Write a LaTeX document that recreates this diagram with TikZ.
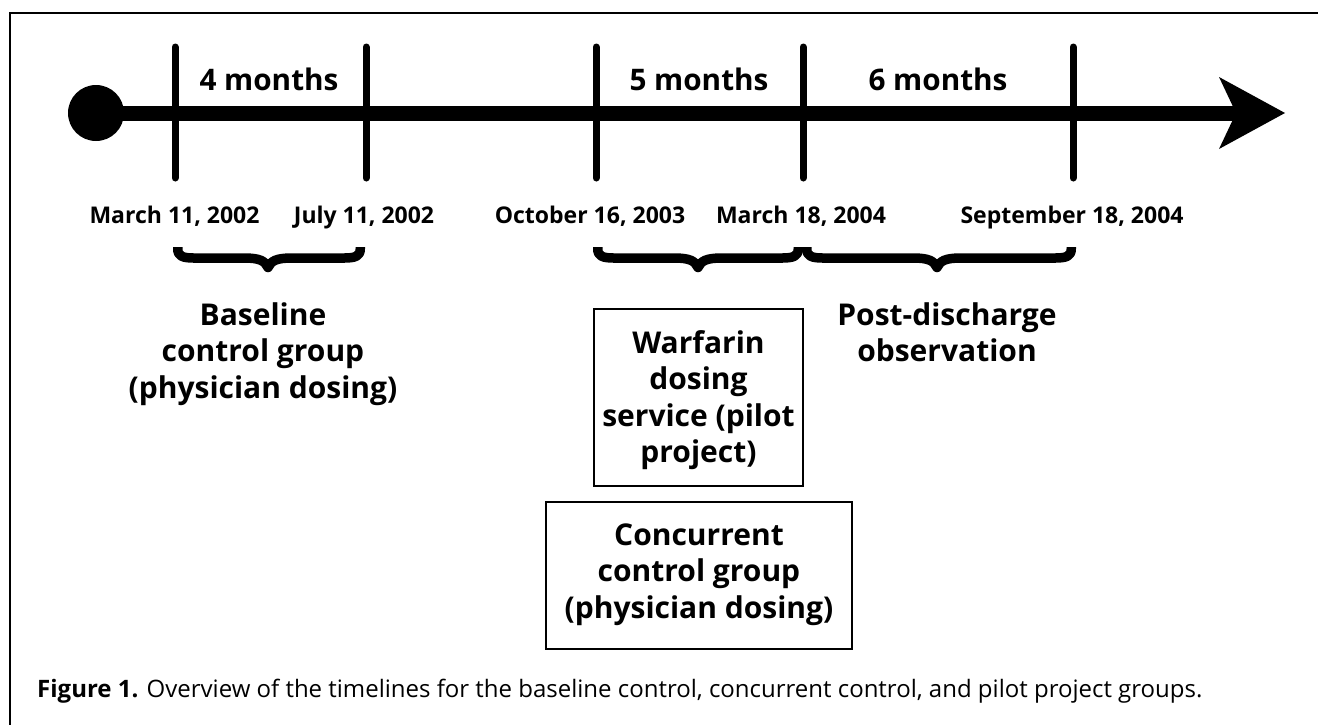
\documentclass[tikz,border=0pt]{standalone}
\usepackage{fontspec}
\setmainfont{Open Sans}
\newcommand\mybrace[4]{% name, left outer x, tip x, right outer x
  \draw[bracestyle] ({#2+4.75},247) -- ({#2+4.75},249)
    .. controls ({#2+4.75},256) and ({#2+9.5},258) .. ({#2+20.5},258)
    -- ({#3-24},258)
    .. controls ({#3-8},258) and ({#3-3},261) .. (#3,267.5)
    .. controls ({#3+3},261) and ({#3+8},258) .. ({#3+24},258)
    -- ({#4-20.5},258)
    .. controls ({#4-9.5},258) and ({#4-4.75},256) .. ({#4-4.75},249)
    -- ({#4-4.75},247) coordinate (#1);}
\begin{document}
\begin{tikzpicture}[x=1pt,y=-1pt,
  frame/.style={line width=2pt},
  axis/.style={line width=15pt},
  tickmark/.style={line width=7pt, line cap=round},
  bracestyle/.style={line width=9.5pt, line join=round},
  bigtext/.style={font=\fontsize{30}{36.5}\selectfont\bfseries, align=center, inner sep=0pt},
  months/.style={font=\fontsize{29.7}{34}\selectfont\bfseries, anchor=base, inner sep=0pt},
  datelbl/.style={font=\fontsize{23}{26}\selectfont\bfseries, anchor=base, inner sep=0pt},
  groupbox/.style={draw, line width=2.7pt, inner sep=0pt, font=\fontsize{30}{36.5}\selectfont\bfseries, align=center},
  caption/.style={font=\fontsize{24}{28}\selectfont, anchor=base west, inner sep=0pt}
]
\useasboundingbox (0,0) rectangle (1318,724);
\fill[white] (0,0) rectangle (1318,724);
\draw[frame] (10,760) -- (10,13) -- (1340,13);

% timeline
\node[circle, fill=black, minimum size=56pt, inner sep=0pt] (start) at (96,113) {};
\coordinate (headback) at (1236,113);
\coordinate (headtip) at (1285,113);
\coordinate (headtop) at (1219,77);
\coordinate (headbot) at (1219,149);
\draw[axis] (start.center) -- (headback);
\fill (headtop) -- (headtip) -- (headbot) -- (headback) -- cycle;

% ticks
\foreach \x/\n in {175/t1, 366/t2, 596/t3, 803/t4, 1073/t5}{
  \draw[tickmark] (\x,47) coordinate (\n top) -- (\x,178) coordinate (\n bot);
}

% period labels
\node[months] (m4) at (269,90.5) {4 months};
\node[months] (m5) at (699,90.5) {5 months};
\node[months] (m6) at (938,90.5) {6 months};

% dates
\node[datelbl] (d1) at (174.5,223) {March 11, 2002};
\node[datelbl] (d2) at (364,223) {July 11, 2002};
\node[datelbl] (d3) at (590,223) {October 16, 2003};
\node[datelbl] (d4) at (801,223) {March 18, 2004};
\node[datelbl] (d5) at (1072,223) {September 18, 2004};

% braces
\mybrace{b1}{173}{268}{365}
\mybrace{b2}{593}{698}{803}
\mybrace{b3}{802}{937}{1076}

% group labels
\node[bigtext] (baseline) at (263,354) {\rule{0pt}{25pt}Baseline\\control group\\(physician dosing)\rule[-10pt]{0pt}{10pt}};
\node[bigtext] (post) at (947,335.75) {\rule{0pt}{25pt}Post-discharge\\observation\rule[-10pt]{0pt}{10pt}};

% boxes
\node[groupbox, minimum width=209pt, minimum height=177pt] (pilot) at (698.5,397.5)
  {\rule{0pt}{30pt}Warfarin\\dosing\\service (pilot\\project)\rule[-9pt]{0pt}{9pt}};
\node[groupbox, minimum width=306pt, minimum height=147pt] (concurrent) at (699,575.5)
  {\rule{0pt}{24pt}Concurrent\\control group\\(physician dosing)\rule[-12pt]{0pt}{12pt}};

% caption
\node[caption] (cap) at (37,697) {\textbf{Figure 1.} Overview of the timelines for the baseline control, concurrent control, and pilot project groups.};
\end{tikzpicture}
\end{document}
